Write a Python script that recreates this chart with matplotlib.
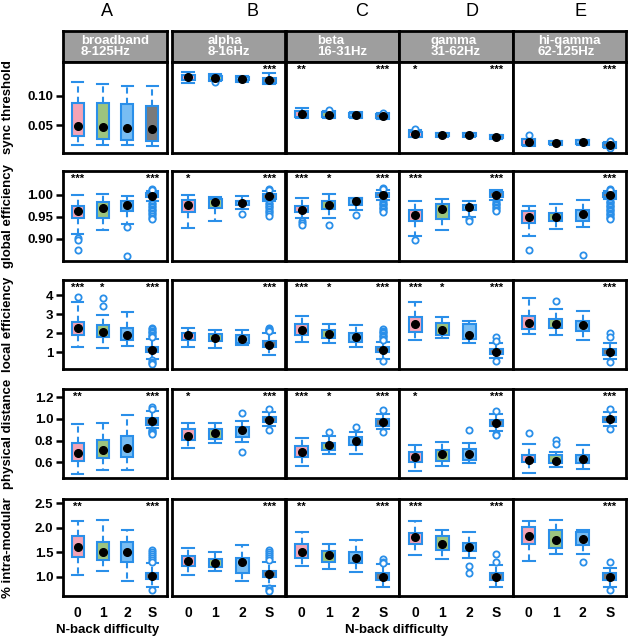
import matplotlib
matplotlib.use("Agg")
import matplotlib.pyplot as plt

plt.rcParams["font.family"] = ["Liberation Sans", "DejaVu Sans"]

LETTERS = ["A", "B", "C", "D", "E"]
BANDS = ["broadband\n8-125Hz", "alpha\n8-16Hz", "beta\n16-31Hz",
         "gamma\n31-62Hz", "hi-gamma\n62-125Hz"]
CONDS = ["0", "1", "2", "S"]
METRICS = ["sync threshold", "global efficiency", "local efficiency",
           "physical distance", "% intra-modular"]

# sync threshold (rows = bands, cols = 0,1,2,S)
SYNC_MED = [[0.0484, 0.0467, 0.045, 0.0434], [0.1304, 0.1287, 0.128, 0.1254],
            [0.0693, 0.068, 0.067, 0.0653], [0.035, 0.034, 0.0346, 0.0313],
            [0.0224, 0.0214, 0.022, 0.0175]]
SYNC_Q1 = [[0.0318, 0.027, 0.0257, 0.0236], [0.1259, 0.1259, 0.1251, 0.121],
           [0.0644, 0.0637, 0.064, 0.062], [0.0314, 0.032, 0.032, 0.029],
           [0.017, 0.019, 0.019, 0.014]]
SYNC_Q3 = [[0.088, 0.088, 0.0858, 0.083], [0.134, 0.1325, 0.1317, 0.130],
           [0.0736, 0.072, 0.071, 0.069], [0.039, 0.037, 0.037, 0.034],
           [0.0269, 0.024, 0.025, 0.021]]
SYNC_LO = [[0.017, 0.017, 0.017, 0.016], [0.1215, 0.1243, 0.1234, 0.1188],
           [0.0627, 0.062, 0.0625, 0.060], [0.031, 0.031, 0.031, 0.028],
           [0.016, 0.018, 0.018, 0.013]]
SYNC_HI = [[0.1226, 0.119, 0.116, 0.116], [0.1396, 0.1358, 0.1333, 0.138],
           [0.0792, 0.0745, 0.073, 0.070], [0.0418, 0.0375, 0.0375, 0.0345],
           [0.028, 0.0245, 0.0255, 0.022]]
SYNC_OUT = [[[], [], [], []], [[], [0.1225], [], []],
            [[], [0.0765], [], [0.0715]], [[0.0446], [], [], []],
            [[0.034], [], [], [0.024, 0.012]]]
SYNC_STARS = [["", "", "", ""], ["", "", "", "***"], ["**", "", "", "***"],
              ["*", "", "", "***"], ["", "", "", "***"]]

# global efficiency
GLOB_MED = [[0.9624, 0.970, 0.9775, 0.998], [0.9775, 0.9827, 0.981, 0.9977],
            [0.966, 0.9775, 0.985, 1.0], [0.953, 0.968, 0.9714, 1.0],
            [0.949, 0.949, 0.955, 1.0]]
GLOB_Q1 = [[0.9475, 0.9475, 0.9624, 0.995], [0.961, 0.970, 0.976, 0.990],
           [0.961, 0.9685, 0.9775, 0.995], [0.94, 0.944, 0.9647, 0.995],
           [0.936, 0.941, 0.94, 0.995]]
GLOB_Q3 = [[0.9737, 0.9827, 0.985, 1.004], [0.9887, 0.990, 0.9865, 1.002],
           [0.9737, 0.985, 0.9925, 1.005], [0.966, 0.979, 0.9775, 1.006],
           [0.962, 0.959, 0.965, 1.004]]
GLOB_LO = [[0.91, 0.9196, 0.9324, 0.985], [0.925, 0.941, 0.968, 0.985],
           [0.9475, 0.946, 0.966, 0.988], [0.906, 0.9196, 0.949, 0.988],
           [0.906, 0.921, 0.926, 0.99]]
GLOB_HI = [[1.00, 1.0016, 0.996, 1.009], [1.0, 0.994, 0.996, 1.009],
           [0.9925, 1.002, 0.9925, 1.010], [0.985, 0.991, 0.985, 1.0097],
           [0.9737, 0.979, 0.987, 1.008]]
GLOB_OUT = [[[0.9025, 0.8964, 0.874], [], [0.926, 0.861],
             [1.013, 1.011, 0.982, 0.978, 0.975, 0.972, 0.968, 0.965, 0.962,
              0.958, 0.955, 0.952, 0.948, 0.945]],
            [[], [], [0.955],
             [1.013, 1.011, 0.982, 0.978, 0.975, 0.971, 0.968, 0.964, 0.96,
              0.956, 0.952]],
            [[0.94, 0.936, 0.932], [0.932], [0.9534],
             [1.015, 1.012, 0.985, 0.982, 0.979, 0.976, 0.973, 0.97, 0.967,
              0.964, 0.961]],
            [[0.897], [], [0.944, 0.94],
             [0.985, 0.982, 0.979, 0.976, 0.973, 0.970, 0.966, 0.962]],
            [[0.874], [], [0.863],
             [1.013, 1.011, 0.986, 0.983, 0.98, 0.977, 0.974, 0.971, 0.968,
              0.965, 0.962, 0.959, 0.956, 0.953, 0.95, 0.947, 0.944]]]
GLOB_STARS = [["***", "", "", "***"], ["*", "", "", "***"],
              ["***", "*", "", "***"], ["***", "", "", "***"],
              ["", "", "", "***"]]

# local efficiency
LOC_MED = [[2.30, 2.09, 1.91, 1.13], [1.90, 1.78, 1.69, 1.39],
           [2.17, 1.95, 1.81, 1.13], [2.47, 2.17, 1.91, 1.03],
           [2.55, 2.50, 2.43, 1.03]]
LOC_Q1 = [[1.91, 1.83, 1.65, 1.0], [1.64, 1.60, 1.52, 1.26],
          [1.91, 1.78, 1.57, 1.0], [2.09, 1.91, 1.69, 0.91],
          [2.21, 2.30, 2.12, 0.88]]
LOC_Q3 = [[2.61, 2.43, 2.26, 1.29], [2.04, 1.95, 1.90, 1.60],
          [2.50, 2.17, 2.04, 1.29], [2.87, 2.52, 2.47, 1.17],
          [2.90, 2.76, 2.67, 1.17]]
LOC_LO = [[1.26, 1.22, 1.34, 0.66], [1.26, 1.22, 1.38, 0.88],
          [1.57, 1.47, 1.31, 0.65], [1.64, 1.74, 1.47, 0.70],
          [1.95, 1.91, 1.65, 0.65]]
LOC_HI = [[3.62, 2.98, 3.10, 1.73], [2.30, 2.17, 2.17, 2.04],
          [2.93, 2.50, 2.43, 1.57], [3.67, 2.87, 2.67, 1.52],
          [3.85, 3.30, 3.16, 1.48]]
LOC_OUT = [[[3.90], [3.85, 3.41], [],
            [2.30, 2.22, 2.15, 2.08, 2.0, 1.93, 1.86, 1.80, 0.58, 0.52,
             0.46, 0.41]],
           [[], [], [], [2.30, 2.25, 2.20, 2.15, 2.10]],
           [[], [], [], [2.21, 2.14, 2.07, 2.0, 1.93, 1.86, 1.79, 1.72, 1.66,
                         0.53]],
           [[], [], [], [1.83, 1.62, 0.56]],
           [[], [3.72], [], [2.0, 1.83, 0.48]]]
LOC_STARS = [["***", "*", "", "***"], ["", "", "", "***"],
             ["***", "*", "", "***"], ["***", "*", "", "***"],
             ["", "", "", "***"]]

# physical distance
PHYS_MED = [[0.687, 0.712, 0.736, 0.978], [0.842, 0.873, 0.894, 0.991],
            [0.696, 0.757, 0.794, 0.969], [0.651, 0.675, 0.675, 0.964],
            [0.621, 0.615, 0.63, 1.0]]
PHYS_Q1 = [[0.612, 0.645, 0.651, 0.948], [0.803, 0.818, 0.833, 0.969],
           [0.651, 0.712, 0.757, 0.939], [0.60, 0.612, 0.627, 0.939],
           [0.603, 0.594, 0.594, 0.969]]
PHYS_Q3 = [[0.778, 0.809, 0.842, 1.009], [0.903, 0.909, 0.930, 1.021],
           [0.748, 0.778, 0.833, 1.0], [0.696, 0.712, 0.727, 0.991],
           [0.666, 0.666, 0.666, 1.021]]
PHYS_LO = [[0.494, 0.53, 0.53, 0.918], [0.733, 0.778, 0.787, 0.939],
           [0.566, 0.682, 0.682, 0.909], [0.521, 0.566, 0.591, 0.885],
           [0.50, 0.557, 0.536, 0.939]]
PHYS_HI = [[0.955, 0.96, 1.04, 1.075], [0.96, 0.96, 0.985, 1.06],
           [0.824, 0.839, 0.878, 1.045], [0.757, 0.787, 0.778, 1.045],
           [0.773, 0.696, 0.757, 1.06]]
PHYS_OUT = [[[], [], [], [1.105, 1.09, 0.90, 0.89, 0.88, 0.87, 0.86]],
            [[], [], [1.05, 0.696], [1.091, 0.90]],
            [[], [0.878], [0.924], [1.082, 0.878]],
            [[], [], [0.894], [1.069, 0.862, 0.852]],
            [[0.873], [0.81, 0.773], [], [1.091, 0.909]]]
PHYS_STARS = [["**", "", "", "***"], ["*", "", "", "***"],
              ["***", "*", "", "***"], ["*", "", "", "***"],
              ["", "", "", "***"]]

# % intra-modular
PCT_MED = [[1.613, 1.512, 1.512, 1.02], [1.323, 1.276, 1.302, 1.054],
           [1.512, 1.443, 1.377, 1.008], [1.814, 1.673, 1.605, 1.008],
           [1.84, 1.746, 1.78, 1.008]]
PCT_Q1 = [[1.411, 1.343, 1.31, 0.954], [1.222, 1.21, 1.089, 0.988],
          [1.391, 1.302, 1.29, 0.94], [1.679, 1.558, 1.524, 0.94],
          [1.679, 1.593, 1.659, 0.94]]
PCT_Q3 = [[1.84, 1.706, 1.706, 1.089], [1.423, 1.371, 1.377, 1.121],
          [1.673, 1.524, 1.512, 1.089], [1.895, 1.827, 1.693, 1.075],
          [2.008, 1.948, 1.907, 1.089]]
PCT_LO = [[1.034, 1.121, 0.907, 0.786], [1.034, 1.121, 0.907, 0.819],
          [1.222, 1.169, 1.101, 0.786], [1.437, 1.357, 1.391, 0.786],
          [1.323, 1.458, 1.458, 0.786]]
PCT_HI = [[2.143, 2.163, 1.962, 1.276], [1.593, 1.512, 1.64, 1.302],
          [1.915, 1.673, 1.746, 1.256], [2.143, 1.962, 1.907, 1.236],
          [2.129, 2.163, 1.962, 1.19]]
PCT_OUT = [[[], [], [], [1.544, 1.50, 1.46, 1.42, 1.38, 1.34, 1.30, 0.738]],
           [[], [], [], [1.544, 1.50, 1.46, 1.42, 1.38, 1.34, 0.77, 0.74,
                         0.718]],
           [[], [], [], [1.357, 1.31, 1.29]],
           [[], [], [1.222, 1.089], [1.458, 1.302]],
           [[], [], [1.31], [1.302, 0.732]]]
PCT_STARS = [["**", "", "", "***"], ["", "", "", "***"],
             ["**", "", "", "***"], ["***", "", "", "***"],
             ["", "", "", "***"]]

YLIMS = [(0.004, 0.156), (0.849, 1.054), (0.13, 4.8), (0.457, 1.275),
         (0.611, 2.587)]
YTICKS = [[0.05, 0.10], [0.90, 0.95, 1.00], [1, 2, 3, 4],
          [0.6, 0.8, 1.0, 1.2], [1.0, 1.5, 2.0, 2.5]]
YTICKLABELS = [["0.05", "0.10"], ["0.90", "0.95", "1.00"],
               ["1", "2", "3", "4"], ["0.6", "0.8", "1.0", "1.2"],
               ["1.0", "1.5", "2.0", "2.5"]]

FILLS = ["#f4a3b5", "#9cc47e", "#78bdf3", "#7a7a7a"]
BLUE = "#2a8fe9"
HEAD_GRAY = "#9e9e9e"

rows = [
    (SYNC_MED, SYNC_Q1, SYNC_Q3, SYNC_LO, SYNC_HI, SYNC_OUT, SYNC_STARS),
    (GLOB_MED, GLOB_Q1, GLOB_Q3, GLOB_LO, GLOB_HI, GLOB_OUT, GLOB_STARS),
    (LOC_MED, LOC_Q1, LOC_Q3, LOC_LO, LOC_HI, LOC_OUT, LOC_STARS),
    (PHYS_MED, PHYS_Q1, PHYS_Q3, PHYS_LO, PHYS_HI, PHYS_OUT, PHYS_STARS),
    (PCT_MED, PCT_Q1, PCT_Q3, PCT_LO, PCT_HI, PCT_OUT, PCT_STARS),
]

W, H = 630, 639
COL_X = [(63, 167), (172, 285.5), (285.5, 399), (399, 512.5), (512.5, 626)]
ROW_Y = [(62, 153), (171, 261), (280, 369), (389, 478), (499, 596)]
HEAD_Y = (31, 62)
LETTER_X = [107, 253, 362, 472, 580]


def rect(x0, x1, y0, y1):
    return [x0 / W, 1 - y1 / H, (x1 - x0) / W, (y1 - y0) / H]


fig = plt.figure(figsize=(W / 100, H / 100), dpi=100)
pos = [1, 2, 3, 4]

for c, (x0, x1) in enumerate(COL_X):
    # band header strip
    hax = fig.add_axes(rect(x0, x1, *HEAD_Y))
    hax.set_facecolor(HEAD_GRAY)
    hax.set_xticks([])
    hax.set_yticks([])
    for sp in hax.spines.values():
        sp.set_linewidth(2)
    hax.text(0.5, 0.5, BANDS[c], transform=hax.transAxes, ha="center",
             va="center", multialignment="left", color="white",
             fontsize=9.5, fontweight="bold", linespacing=0.95)
    fig.text(LETTER_X[c] / W, 1 - 12 / H, LETTERS[c], ha="center",
             va="center", fontsize=13)

    for r, (y0, y1) in enumerate(ROW_Y):
        med, q1, q3, lo, hi, out, stars = rows[r]
        ax = fig.add_axes(rect(x0, x1, y0, y1))
        stats = []
        for k in range(4):
            stats.append(dict(med=med[c][k], q1=q1[c][k], q3=q3[c][k],
                              whislo=lo[c][k], whishi=hi[c][k],
                              fliers=out[c][k]))
        bp = ax.bxp(stats, positions=pos, widths=0.48, capwidths=0.45,
                    patch_artist=True,
                    boxprops=dict(edgecolor=BLUE, linewidth=1.5),
                    whiskerprops=dict(color=BLUE, linewidth=1.5,
                                      linestyle=(0, (3, 2))),
                    capprops=dict(color=BLUE, linewidth=1.5),
                    medianprops=dict(linewidth=0),
                    flierprops=dict(marker="o", markerfacecolor="white",
                                    markeredgecolor=BLUE, markersize=4.5,
                                    markeredgewidth=1.3))
        for patch, col in zip(bp["boxes"], FILLS):
            patch.set_facecolor(col)
        ax.plot(pos, med[c], "o", color="black", ms=5.5, zorder=5)

        for k, s in enumerate(stars[c]):
            if s:
                ax.annotate(s, xy=(pos[k], 1), xycoords=("data", "axes fraction"),
                            xytext=(0, -2), textcoords="offset points",
                            ha="center", va="top", fontsize=8,
                            fontweight="bold")

        ax.set_xlim(0.4, 4.6)
        ax.set_ylim(*YLIMS[r])
        for sp in ax.spines.values():
            sp.set_linewidth(2)

        if r == len(ROW_Y) - 1:
            ax.set_xticks(pos)
            ax.set_xticklabels(CONDS, fontsize=10, fontweight="bold")
            ax.tick_params(axis="x", length=0, pad=7)
        else:
            ax.set_xticks([])
        if c == 0:
            ax.set_yticks(YTICKS[r])
            ax.set_yticklabels(YTICKLABELS[r], fontsize=9.5, fontweight="bold")
            ax.tick_params(axis="y", length=5, width=1.8, pad=2)
            fig.text(8 / W, 1 - (y0 + y1) / 2 / H, METRICS[r], rotation=90,
                     ha="center", va="center", fontsize=9.5,
                     fontweight="bold")
        else:
            ax.set_yticks([])

fig.text(108 / W, 1 - 630 / H, "N-back difficulty", ha="center",
         va="center", fontsize=9.5, fontweight="bold")
fig.text(397 / W, 1 - 630 / H, "N-back difficulty", ha="center",
         va="center", fontsize=9.5, fontweight="bold")

fig.savefig("out.png", dpi=100)
